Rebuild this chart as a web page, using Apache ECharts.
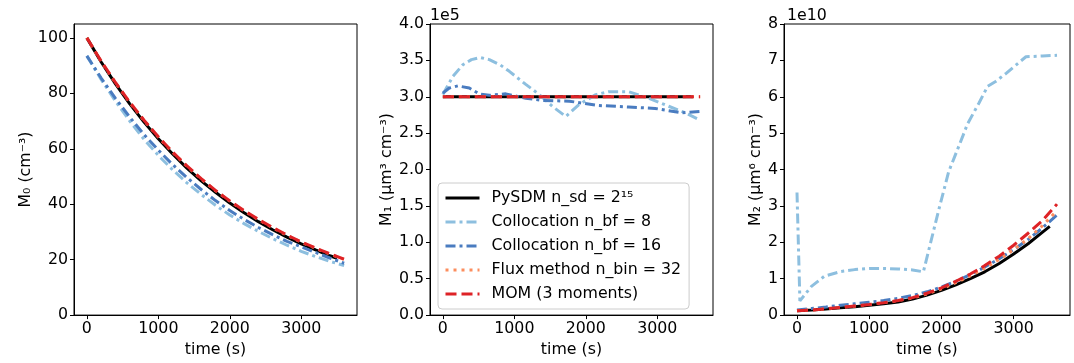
<!DOCTYPE html>
<html>
<head>
<meta charset="utf-8">
<script src="https://cdn.jsdelivr.net/npm/echarts@6/dist/echarts.min.js"></script>
<style>
  html, body { margin: 0; padding: 0; background: #fff; }
  #chart { width: 1074px; height: 363px; }
</style>
</head>
<body>
<div id="chart"></div>
<script>
// time grids (s)
var time = [0, 200, 400, 600, 800, 1000, 1200, 1400, 1600, 1800, 2000, 2200, 2400, 2600, 2800, 3000, 3200, 3400, 3600];
var timeSd = [0, 200, 400, 600, 800, 1000, 1200, 1400, 1600, 1800, 2000, 2200, 2400, 2600, 2800, 3000, 3200, 3400, 3500];
var xTicks = [0, 1000, 2000, 3000];
var m0Ticks = [0, 20, 40, 60, 80, 100];

// M0 (cm^-3)
var m0Sd = [100, 91.3, 83.4, 76.2, 69.6, 63.6, 58.1, 53.0, 48.4, 44.3, 40.4, 36.9, 33.7, 30.8, 28.1, 25.7, 23.5, 21.4, 20.5];
var m0Col8 = [93.5, 85.0, 77.2, 70.0, 63.4, 57.6, 52.4, 47.7, 43.5, 39.6, 36.1, 33.0, 30.2, 27.6, 25.2, 23.0, 21.1, 19.4, 17.9];
var m0Col16 = [93.5, 85.5, 78.2, 71.4, 65.1, 59.5, 54.3, 49.6, 45.3, 41.3, 37.7, 34.5, 31.6, 29.0, 26.6, 24.6, 22.6, 20.6, 18.7];
var m0Flux = [100, 91.5, 83.8, 76.7, 70.2, 64.2, 58.7, 53.7, 49.1, 44.9, 41.1, 37.6, 34.4, 31.5, 28.8, 26.3, 24.1, 22.0, 20.1];
var m0Mom = [100, 91.6, 83.9, 76.8, 70.3, 64.3, 58.8, 53.8, 49.2, 45.0, 41.2, 37.7, 34.5, 31.6, 28.9, 26.4, 24.2, 22.1, 20.2];

// M1 (1e5 um^3 cm^-3)
var m1Sd = [3, 3, 3, 3, 3, 3, 3, 3, 3, 3, 3, 3, 3, 3, 3, 3, 3, 3, 3];
var m1Col8Time = [0, 140, 280, 400, 520, 650, 800, 930, 1160, 1350, 1530, 1720, 1900, 2140, 2320, 2600, 2880, 3160, 3390, 3600];
var m1Col8 = [3.03, 3.28, 3.44, 3.51, 3.54, 3.51, 3.44, 3.35, 3.17, 3.03, 2.87, 2.73, 2.89, 3.03, 3.07, 3.07, 2.98, 2.87, 2.78, 2.68];
var m1Col16Time = [0, 90, 210, 370, 510, 650, 880, 1160, 1390, 1770, 2180, 2600, 2970, 3340, 3600];
var m1Col16 = [3.05, 3.12, 3.15, 3.12, 3.04, 3.02, 3.04, 2.98, 2.95, 2.94, 2.88, 2.86, 2.84, 2.78, 2.80];
var m1Flux = [3, 3, 3, 3, 3, 3, 3, 3, 3, 3, 3, 3, 3, 3, 3, 3, 3, 3, 3];
var m1Mom = [3, 3, 3, 3, 3, 3, 3, 3, 3, 3, 3, 3, 3, 3, 3, 3, 3, 3, 3];

// M2 (1e10 um^6 cm^-3)
var m2Sd = [0.12, 0.14, 0.17, 0.20, 0.23, 0.27, 0.31, 0.36, 0.44, 0.55, 0.68, 0.83, 1.00, 1.19, 1.42, 1.68, 1.96, 2.28, 2.44];
var m2Col8Time = [0, 40, 200, 380, 610, 800, 1000, 1200, 1400, 1600, 1750, 1780, 1960, 2100, 2190, 2290, 2360, 2520, 2640, 2750, 2900, 3030, 3170, 3400, 3600];
var m2Col8 = [3.37, 0.39, 0.79, 1.07, 1.20, 1.25, 1.28, 1.28, 1.27, 1.24, 1.19, 1.43, 2.87, 3.94, 4.39, 4.89, 5.25, 5.83, 6.29, 6.42, 6.65, 6.87, 7.10, 7.12, 7.14];
var m2Col16 = [0.14, 0.18, 0.22, 0.27, 0.31, 0.35, 0.40, 0.46, 0.54, 0.64, 0.77, 0.93, 1.11, 1.32, 1.55, 1.80, 2.08, 2.40, 2.75];
var m2Flux = [0.12, 0.14, 0.17, 0.21, 0.25, 0.29, 0.34, 0.40, 0.47, 0.58, 0.72, 0.89, 1.08, 1.29, 1.53, 1.80, 2.10, 2.46, 2.87];
var m2Mom = [0.12, 0.14, 0.17, 0.21, 0.25, 0.29, 0.34, 0.40, 0.48, 0.60, 0.75, 0.93, 1.13, 1.36, 1.62, 1.92, 2.25, 2.60, 3.05];

var names = ['PySDM n_sd = 2\u00b9\u2075', 'Collocation n_bf = 8', 'Collocation n_bf = 16', 'Flux method n_bin = 32', 'MOM (3 moments)'];

var FONT = 'DejaVu Sans';
var FS = 15.8;

function zip(t, v, scale) {
    var out = [];
    for (var i = 0; i < t.length; i++) {
        out.push([t[i], v[i] * scale]);
    }
    return out;
}

var styles = [
    {color: '#000000', width: 3, type: 'solid'},
    {color: '#8dbfdf', width: 3, type: [10, 4, 3, 4]},
    {color: '#4a7cc0', width: 3, type: [10, 4, 3, 4]},
    {color: '#fc8d5e', width: 3, type: [3, 5]},
    {color: '#de2226', width: 3, type: [11, 5]}
];

function line(idx, gridIdx, data) {
    return {
        name: names[idx],
        type: 'line',
        xAxisIndex: gridIdx,
        yAxisIndex: gridIdx,
        showSymbol: false,
        symbol: 'none',
        animation: false,
        color: styles[idx].color,
        lineStyle: {color: styles[idx].color, width: styles[idx].width, type: styles[idx].type},
        data: data
    };
}

var grids = [
    {left: 74, top: 24, width: 283, height: 295},
    {left: 430, top: 24, width: 283, height: 295},
    {left: 784, top: 24, width: 286, height: 295}
];

function xAxis(i) {
    return {
        gridIndex: i,
        type: 'value',
        min: -180,
        max: 3780,
        name: 'time (s)',
        nameLocation: 'middle',
        nameGap: 26,
        nameTextStyle: {fontFamily: FONT, fontSize: FS, color: '#000'},
        axisLine: {show: true, onZero: false, lineStyle: {color: '#000', width: 1}},
        axisTick: {show: true, length: 4, customValues: xTicks, lineStyle: {color: '#000'}},
        axisLabel: {customValues: xTicks, margin: 6, fontFamily: FONT, fontSize: FS, color: '#000',
            formatter: function (v) { return String(v); }},
        splitLine: {show: false}
    };
}

function yAxis(i, opts) {
    var base = {
        gridIndex: i,
        type: 'value',
        nameLocation: 'middle',
        nameTextStyle: {fontFamily: FONT, fontSize: FS, color: '#000'},
        axisLine: {show: true, onZero: false, lineStyle: {color: '#000', width: 1}},
        axisTick: {show: true, length: 4, lineStyle: {color: '#000'}},
        axisLabel: {margin: 6, fontFamily: FONT, fontSize: FS, color: '#000'},
        splitLine: {show: false}
    };
    for (var k in opts) {
        if (typeof opts[k] === 'object' && !Array.isArray(opts[k]) && base[k]) {
            for (var j in opts[k]) base[k][j] = opts[k][j];
        } else {
            base[k] = opts[k];
        }
    }
    return base;
}

var chart = echarts.init(document.getElementById('chart'), null, {renderer: 'canvas'});

var option = {
    backgroundColor: '#ffffff',
    animation: false,
    grid: grids.map(function (g) {
        return {left: g.left, top: g.top, width: g.width, height: g.height, show: true,
            borderColor: '#000', borderWidth: 1, backgroundColor: 'transparent'};
    }),
    xAxis: [xAxis(0), xAxis(1), xAxis(2)],
    yAxis: [
        yAxis(0, {
            min: 0, max: 105,
            name: 'M\u2080 (cm\u207b\u00b3)', nameGap: 38,
            axisTick: {customValues: m0Ticks},
            axisLabel: {customValues: m0Ticks}
        }),
        yAxis(1, {
            min: 0, max: 4e5, interval: 0.5e5,
            name: 'M\u2081 (\u03bcm\u00b3 cm\u207b\u00b3)', nameGap: 34,
            axisLabel: {formatter: function (v) { return (v / 1e5).toFixed(1); }}
        }),
        yAxis(2, {
            min: 0, max: 8e10, interval: 1e10,
            name: 'M\u2082 (\u03bcm\u2076 cm\u207b\u00b3)', nameGap: 18,
            axisLabel: {formatter: function (v) { return (v / 1e10).toFixed(0); }}
        })
    ],
    legend: {
        show: true,
        orient: 'vertical',
        left: 438,
        top: 183,
        padding: [6, 8, 6, 6],
        backgroundColor: '#ffffff',
        borderColor: '#cccccc',
        borderWidth: 1,
        borderRadius: 4,
        itemWidth: 34,
        itemHeight: 14,
        itemGap: 6,
        itemStyle: {opacity: 0},
        lineStyle: {width: 3},
        textStyle: {fontFamily: FONT, fontSize: FS, color: '#000', lineHeight: 18, padding: [0, 0, 0, 7]},
        data: names
    },
    graphic: [
        {type: 'text', left: 430, top: 8, style: {text: '1e5', fontFamily: FONT, fontSize: FS, fill: '#000'}},
        {type: 'text', left: 787, top: 8, style: {text: '1e10', fontFamily: FONT, fontSize: FS, fill: '#000'}}
    ],
    series: [
        line(0, 0, zip(timeSd, m0Sd, 1)),
        line(1, 0, zip(time, m0Col8, 1)),
        line(2, 0, zip(time, m0Col16, 1)),
        line(3, 0, zip(time, m0Flux, 1)),
        line(4, 0, zip(time, m0Mom, 1)),

        line(0, 1, zip(timeSd, m1Sd, 1e5)),
        line(1, 1, zip(m1Col8Time, m1Col8, 1e5)),
        line(2, 1, zip(m1Col16Time, m1Col16, 1e5)),
        line(3, 1, zip(time, m1Flux, 1e5)),
        line(4, 1, zip(time, m1Mom, 1e5)),

        line(0, 2, zip(timeSd, m2Sd, 1e10)),
        line(1, 2, zip(m2Col8Time, m2Col8, 1e10)),
        line(2, 2, zip(time, m2Col16, 1e10)),
        line(3, 2, zip(time, m2Flux, 1e10)),
        line(4, 2, zip(time, m2Mom, 1e10))
    ]
};

chart.setOption(option);
</script>
</body>
</html>
